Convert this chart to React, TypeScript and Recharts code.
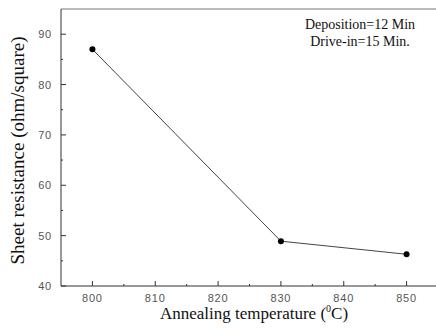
import { LineChart, Line, XAxis, YAxis, ReferenceLine } from 'recharts';

const temperatures = [800, 830, 850];
const resistance = [87, 48.9, 46.3];

const xTicks = [800, 805, 810, 815, 820, 825, 830, 835, 840, 845, 850];
const yTicks = [40, 45, 50, 55, 60, 65, 70, 75, 80, 85, 90];

const notes = ['Deposition=12 Min', 'Drive-in=15 Min.'];

const data = temperatures.map((t, i) => ({ temp: t, r: resistance[i] }));

const tickFont = { fontFamily: 'Liberation Sans, Arial, sans-serif', fontSize: 11, fill: '#555' };
const serif = 'Liberation Serif, Times New Roman, serif';

const XTick = (props: any) => {
  const { x, y, payload } = props;
  const major = payload.value % 10 === 0;
  return (
    <g>
      <line x1={x} x2={x} y1={y} y2={y - (major ? 5 : 2)} stroke="#333" />
      {major && (
        <text x={x} y={y + 16} textAnchor="middle" letterSpacing={0.8} {...tickFont}>
          {payload.value}
        </text>
      )}
    </g>
  );
};

const YTick = (props: any) => {
  const { x, y, payload } = props;
  const major = payload.value % 10 === 0;
  return (
    <g>
      <line x1={x} x2={x + (major ? 5 : 2)} y1={y} y2={y} stroke="#333" />
      {major && (
        <text x={x - 9} y={y + 4} textAnchor="end" letterSpacing={0.8} {...tickFont}>
          {payload.value}
        </text>
      )}
    </g>
  );
};

export default function App() {
  return (
    <div style={{ position: 'fixed', left: 0, top: 0, width: 436, height: 334, overflow: 'hidden', background: '#fff' }}>
      <LineChart width={440} height={334} data={data} margin={{ top: 9, right: 2, left: 0, bottom: 0 }}>
        <XAxis
          dataKey="temp"
          type="number"
          domain={[795, 855]}
          ticks={xTicks}
          interval={0}
          height={48}
          tickSize={0}
          tickMargin={0}
          tickLine={false}
          axisLine={{ stroke: '#333' }}
          tick={XTick}
          label={(p: any) => {
            const vb = p.viewBox;
            return (
              <text x={vb.x + 193} y={vb.y + 33} textAnchor="middle" fontFamily={serif} fontSize={17} fill="#111">
                Annealing temperature (
                <tspan dy={-7} fontSize={10}>0</tspan>
                <tspan dy={7}>C)</tspan>
              </text>
            );
          }}
        />
        <YAxis
          type="number"
          domain={[40, 95]}
          ticks={yTicks}
          interval={0}
          width={61}
          tickSize={0}
          tickMargin={0}
          tickLine={false}
          axisLine={{ stroke: '#333' }}
          tick={YTick}
          label={(p: any) => {
            const vb = p.viewBox;
            const cy = vb.y + vb.height / 2 + 3;
            return (
              <text
                x={24}
                y={cy}
                textAnchor="middle"
                transform={`rotate(-90 24 ${cy})`}
                fontFamily={serif}
                fontSize={19}
                fill="#111"
              >
                Sheet resistance (ohm/square)
              </text>
            );
          }}
        />
        <ReferenceLine
          y={95}
          stroke="#777"
          label={(p: any) => {
            const vb = p.viewBox;
            return (
              <g>
                {notes.map((n, i) => (
                  <text key={n} x={vb.x + 299} y={vb.y + 20 + i * 17} textAnchor="middle" fontFamily={serif} fontSize={14} fill="#111">
                    {n}
                  </text>
                ))}
              </g>
            );
          }}
        />
        <Line
          dataKey="r"
          type="linear"
          stroke="#444"
          strokeWidth={1}
          dot={{ r: 3, fill: '#000', stroke: '#000', strokeWidth: 0 }}
          isAnimationActive={false}
        />
      </LineChart>
    </div>
  );
}
